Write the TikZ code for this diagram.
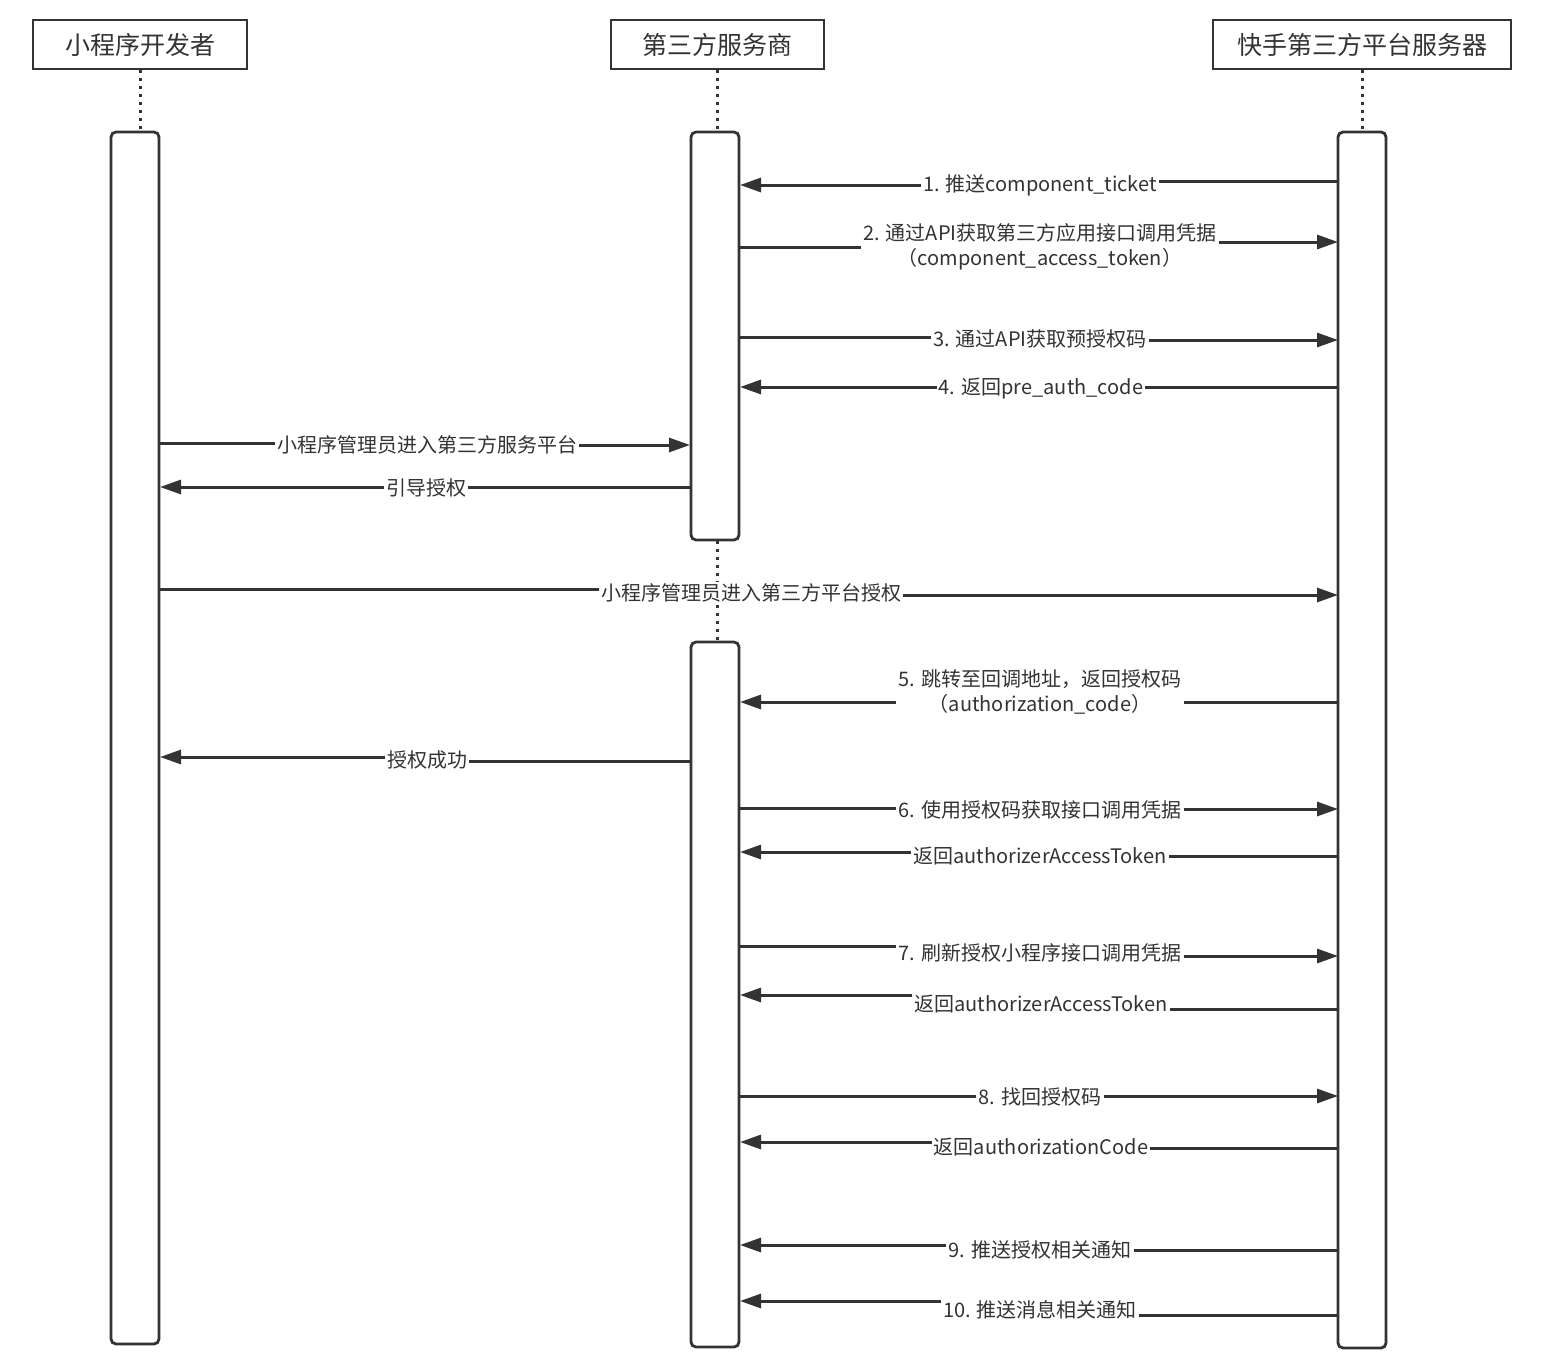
\documentclass[tikz,border=0pt]{standalone}
\usepackage{fontspec}
\setmainfont{Noto Sans CJK SC}
\usetikzlibrary{arrows.meta}
\definecolor{ink}{HTML}{333333}
\begin{document}
\begin{tikzpicture}[x=1pt,y=-1pt,
  hdr/.style={draw=ink,line width=2.8pt,fill=white,minimum height=49pt,inner sep=0pt,
    font=\fontsize{25}{30}\selectfont,text=ink},
  actbar/.style={draw=ink,line width=2.8pt,fill=white,rounded corners=5pt,inner sep=0pt,minimum width=48pt},
  life/.style={draw=ink,line width=3pt,dash pattern=on 3pt off 5pt},
  msg/.style={draw=ink,line width=3pt},
  marr/.style={msg,-{Triangle[length=21pt,width=14pt]}},
  lbl/.style={fill=white,inner sep=2pt,text=ink,font=\fontsize{20}{25}\selectfont,align=center}
]
\useasboundingbox[fill=white] (0,0) rectangle (1542,1366);

% headers
\node[hdr,minimum width=214pt] (hA) at (140,44.5) {小程序开发者};
\node[hdr,minimum width=213pt] (hB) at (717.5,44.5) {第三方服务商};
\node[hdr,minimum width=298pt] (hC) at (1362,44.5) {快手第三方平台服务器};

% activation bars
\node[actbar,minimum height=1212pt] (barA) at (135,738) {};
\node[actbar,minimum height=408pt] (barB1) at (715,336) {};
\node[actbar,minimum height=705pt] (barB2) at (715,994.5) {};
\node[actbar,minimum height=1216pt] (barC) at (1362,740) {};

% lifelines
\draw[life] (hA.south) -- (hA.south |- barA.north);
\draw[life] (hB.south) -- (hB.south |- barB1.north);
\draw[life] (hB.south |- barB1.south) -- (hB.south |- barB2.north);
\draw[life] (hC.south) -- (hC.south |- barC.north);

% message 1: C -> B
\node[lbl] (m1) at (1040,185) {1. 推送component\_ticket};
\coordinate (s1) at (1338,181); \coordinate (e1) at (740,185);
\draw[msg] (s1) -- (m1.east |- s1);
\draw[marr] (m1.west |- e1) -- (e1);

% message 2: B -> C
\node[lbl] (m2) at (1040,233) {2. 通过API获取第三方应用接口调用凭据};
\node[lbl] (m2b) at (1040,259) {（component\_access\_token）};
\coordinate (s2) at (740,247); \coordinate (e2) at (1338,242);
\draw[msg] (s2) -- (m2.west |- s2);
\draw[marr] (m2.east |- e2) -- (e2);

% message 3: B -> C
\node[lbl] (m3) at (1040,339) {3. 通过API获取预授权码};
\coordinate (s3) at (740,337); \coordinate (e3) at (1338,340);
\draw[msg] (s3) -- (m3.west |- s3);
\draw[marr] (m3.east |- e3) -- (e3);

% message 4: C -> B
\node[lbl] (m4) at (1041,389) {4. 返回pre\_auth\_code};
\coordinate (s4) at (1338,387); \coordinate (e4) at (740,387);
\draw[msg] (s4) -- (m4.east |- s4);
\draw[marr] (m4.west |- e4) -- (e4);

% A -> B
\node[lbl] (m5) at (427,445) {小程序管理员进入第三方服务平台};
\coordinate (s5) at (160,443); \coordinate (e5) at (690,445);
\draw[msg] (s5) -- (m5.west |- s5);
\draw[marr] (m5.east |- e5) -- (e5);

% B -> A
\node[lbl] (m6) at (426,488) {引导授权};
\coordinate (s6) at (690,487); \coordinate (e6) at (160,487);
\draw[msg] (s6) -- (m6.east |- s6);
\draw[marr] (m6.west |- e6) -- (e6);

% A -> C
\node[lbl] (m7) at (751,593) {小程序管理员进入第三方平台授权};
\coordinate (s7) at (160,589); \coordinate (e7) at (1338,595);
\draw[msg] (s7) -- (m7.west |- s7);
\draw[marr] (m7.east |- e7) -- (e7);

% message 5: C -> B
\node[lbl] (m8) at (1040,691.5) {5. 跳转至回调地址，返回授权码\\（authorization\_code）};
\coordinate (s8) at (1338,702); \coordinate (e8) at (740,702);
\draw[msg] (s8) -- (m8.east |- s8);
\draw[marr] (m8.west |- e8) -- (e8);

% B -> A success
\node[lbl] (m9) at (427,760) {授权成功};
\coordinate (s9) at (690,761); \coordinate (e9) at (160,757);
\draw[msg] (s9) -- (m9.east |- s9);
\draw[marr] (m9.west |- e9) -- (e9);

% message 6: B -> C
\node[lbl] (m10) at (1040,810) {6. 使用授权码获取接口调用凭据};
\coordinate (s10) at (740,808); \coordinate (e10) at (1338,809);
\draw[msg] (s10) -- (m10.west |- s10);
\draw[marr] (m10.east |- e10) -- (e10);

% return token: C -> B
\node[lbl] (m11) at (1040,856) {返回authorizerAccessToken};
\coordinate (s11) at (1338,856); \coordinate (e11) at (740,852);
\draw[msg] (s11) -- (m11.east |- s11);
\draw[marr] (m11.west |- e11) -- (e11);

% message 7: B -> C
\node[lbl] (m12) at (1040,953) {7. 刷新授权小程序接口调用凭据};
\coordinate (s12) at (740,946); \coordinate (e12) at (1338,956);
\draw[msg] (s12) -- (m12.west |- s12);
\draw[marr] (m12.east |- e12) -- (e12);

% return token: C -> B
\node[lbl] (m13) at (1041,1004) {返回authorizerAccessToken};
\coordinate (s13) at (1338,1009); \coordinate (e13) at (740,995);
\draw[msg] (s13) -- (m13.east |- s13);
\draw[marr] (m13.west |- e13) -- (e13);

% message 8: B -> C
\node[lbl] (m14) at (1040,1097) {8. 找回授权码};
\coordinate (s14) at (740,1096); \coordinate (e14) at (1338,1096);
\draw[msg] (s14) -- (m14.west |- s14);
\draw[marr] (m14.east |- e14) -- (e14);

% return code: C -> B
\node[lbl] (m15) at (1041,1147) {返回authorizationCode};
\coordinate (s15) at (1338,1148); \coordinate (e15) at (740,1142);
\draw[msg] (s15) -- (m15.east |- s15);
\draw[marr] (m15.west |- e15) -- (e15);

% message 9: C -> B
\node[lbl] (m16) at (1040,1250) {9. 推送授权相关通知};
\coordinate (s16) at (1338,1250); \coordinate (e16) at (740,1245);
\draw[msg] (s16) -- (m16.east |- s16);
\draw[marr] (m16.west |- e16) -- (e16);

% message 10: C -> B
\node[lbl] (m17) at (1040,1310) {10. 推送消息相关通知};
\coordinate (s17) at (1338,1315); \coordinate (e17) at (740,1301);
\draw[msg] (s17) -- (m17.east |- s17);
\draw[marr] (m17.west |- e17) -- (e17);
\end{tikzpicture}
\end{document}
